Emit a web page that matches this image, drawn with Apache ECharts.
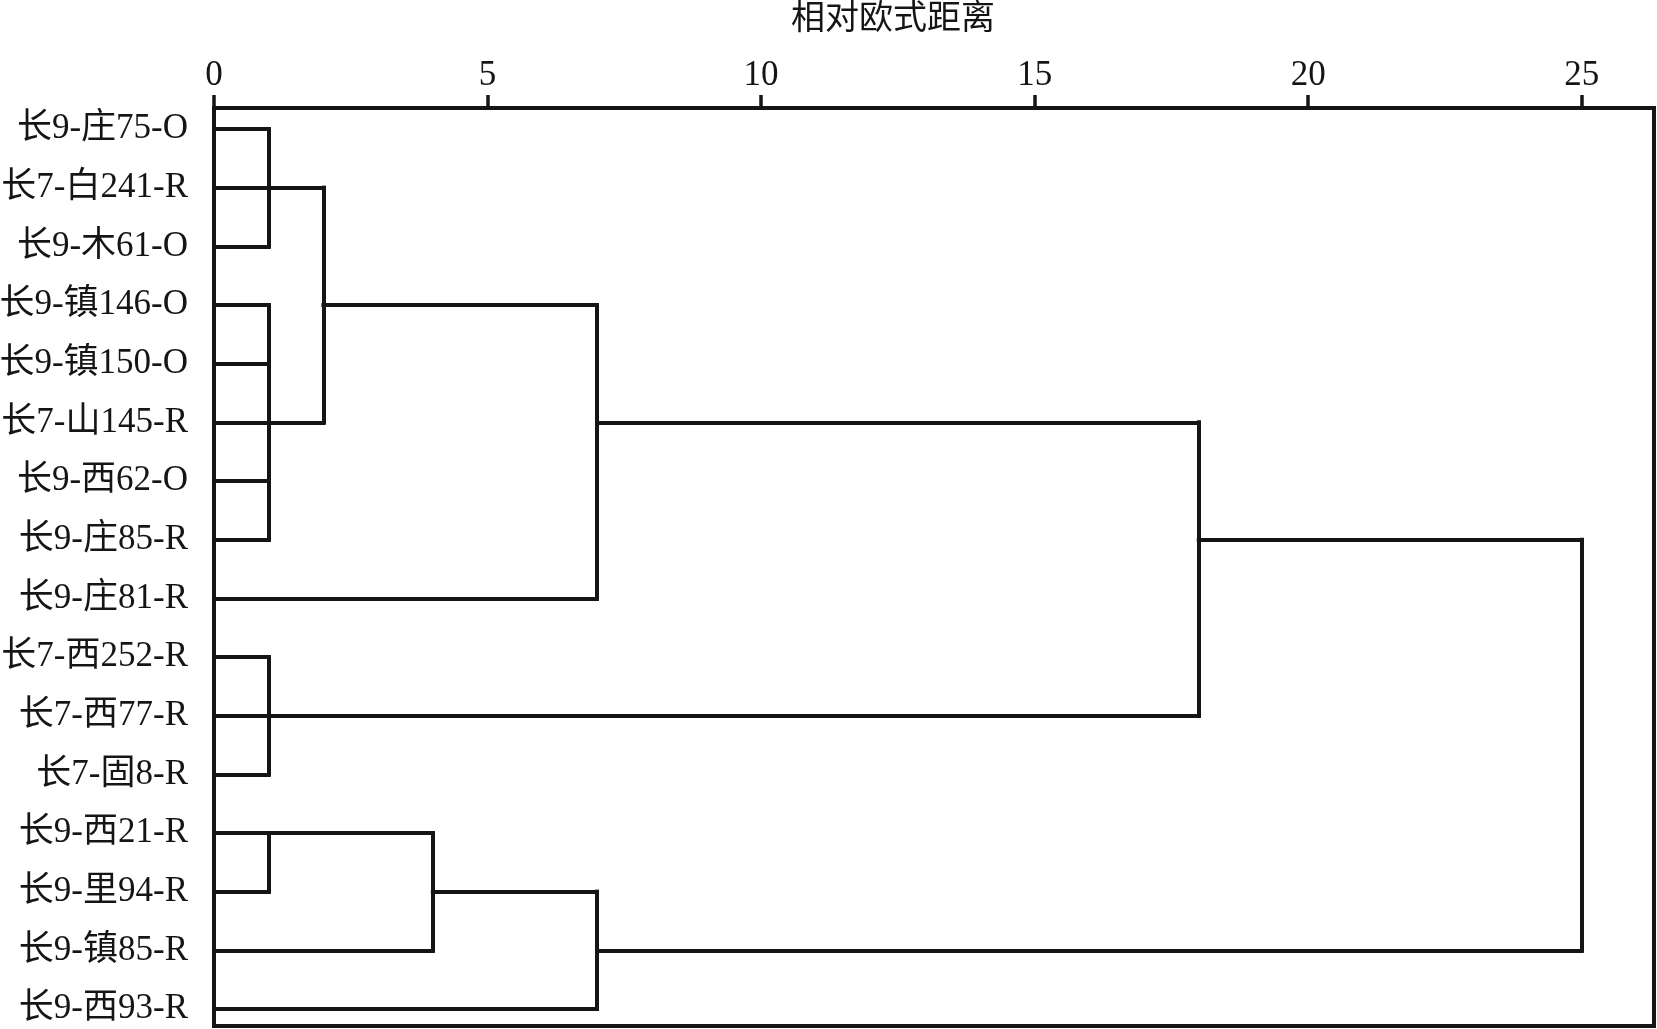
<!DOCTYPE html>
<html>

<head>
	<meta charset="UTF-8">
	<title></title>
	<style>
		html, body {
			margin: 0;
			padding: 0;
			background: #fff;
		}
		#chart {
			width: 1657px;
			height: 1029px;
		}
	</style>
	<script src="https://cdn.jsdelivr.net/npm/echarts@6/dist/echarts.min.js"></script>
</head>

<body>
	<div id="chart"></div>
	<script>
		// leaves, top to bottom
		var leaves = ['长9-庄75-O', '长7-白241-R', '长9-木61-O', '长9-镇146-O', '长9-镇150-O', '长7-山145-R',
			'长9-西62-O', '长9-庄85-R', '长9-庄81-R', '长7-西252-R', '长7-西77-R', '长7-固8-R',
			'长9-西21-R', '长9-里94-R', '长9-镇85-R', '长9-西93-R'];
		var xTicks = [0, 5, 10, 15, 20, 25];

		// horizontal arms: [row, from distance, to distance]
		var arms = [
			[0, 0, 1], [1, 0, 2], [2, 0, 1],
			[3, 0, 1], [4, 0, 1], [5, 0, 2], [6, 0, 1], [7, 0, 1],
			[8, 0, 7],
			[9, 0, 1], [10, 0, 18], [11, 0, 1],
			[12, 0, 4], [13, 0, 1], [14, 0, 4], [15, 0, 7],
			[3, 2, 7], [5, 7, 18], [7, 18, 25], [13, 4, 7], [14, 7, 25]
		];
		// vertical joins: [distance, first row, last row]
		var joins = [
			[1, 0, 2], [1, 3, 7], [2, 1, 5], [7, 3, 8],
			[1, 9, 11], [18, 5, 10],
			[1, 12, 13], [4, 12, 14], [7, 13, 15], [25, 7, 14]
		];

		var segs = arms.map(function (a) {
			return { coords: [[a[1], a[0]], [a[2], a[0]]] };
		}).concat(joins.map(function (j) {
			return { coords: [[j[0], j[1]], [j[0], j[2]]] };
		}));

		var ink = '#151515';
		var serif = "'Liberation Serif', 'Noto Sans CJK SC'";

		var mychart = echarts.init(document.getElementById('chart'));
		mychart.setOption({
			animation: false,
			title: {
				text: '相对欧式距离',
				left: 786,
				top: -6,
				textStyle: {
					fontFamily: 'Noto Sans CJK SC',
					fontWeight: 'normal',
					fontSize: 34,
					color: ink
				}
			},
			grid: {
				left: 214,
				top: 108,
				right: 3,
				bottom: 3,
				outerBoundsMode: 'none',
				containLabel: false,
				show: true,
				borderColor: ink,
				borderWidth: 4
			},
			xAxis: {
				type: 'value',
				position: 'top',
				min: 0,
				max: 26.32,
				splitLine: { show: false },
				axisLine: {
					show: true,
					onZero: false,
					lineStyle: { color: ink, width: 4 }
				},
				axisTick: {
					show: true,
					inside: false,
					length: 13,
					customValues: xTicks,
					lineStyle: { color: ink, width: 3.5 }
				},
				axisLabel: {
					customValues: xTicks,
					margin: 15,
					fontFamily: serif,
					fontSize: 35,
					color: ink
				}
			},
			yAxis: {
				type: 'value',
				inverse: true,
				min: -0.358,
				max: 15.29,
				splitLine: { show: false },
				axisLine: {
					show: true,
					onZero: false,
					lineStyle: { color: ink, width: 4 }
				},
				axisTick: { show: false },
				axisLabel: {
					customValues: leaves.map(function (n, i) { return i; }),
					formatter: function (v) {
						return leaves[Math.round(v)];
					},
					margin: 26,
					fontFamily: serif,
					fontSize: 35,
					color: ink
				}
			},
			series: [{
				type: 'lines',
				coordinateSystem: 'cartesian2d',
				silent: true,
				data: segs,
				lineStyle: {
					color: ink,
					width: 4,
					opacity: 1,
					cap: 'square'
				}
			}]
		});
	</script>
</body>

</html>
